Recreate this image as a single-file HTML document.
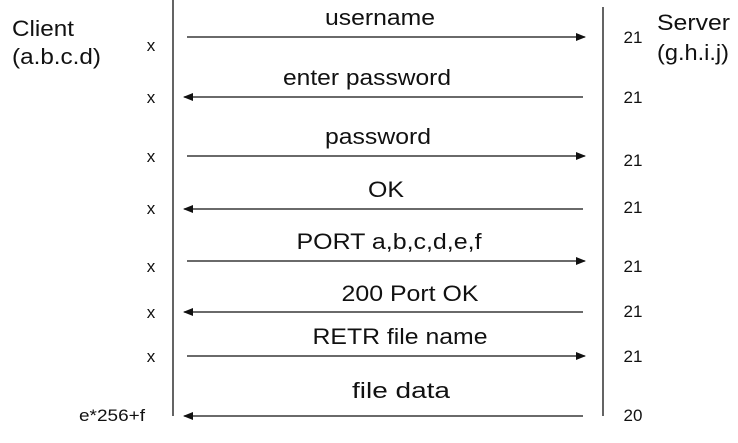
<!DOCTYPE html>
<html><head><meta charset="utf-8"><style>
html,body{margin:0;padding:0;background:#fff;}
body{width:738px;height:438px;overflow:hidden;}
text{font-family:"Liberation Sans",Arial,sans-serif;fill:#111;}
</style></head><body>
<svg width="738" height="438" xmlns="http://www.w3.org/2000/svg">
<defs><marker id="a" markerWidth="10" markerHeight="8" refX="9" refY="4" orient="auto" markerUnits="userSpaceOnUse"><path d="M0,0 L10,4 L0,8 Z" fill="#111"/></marker></defs>
<line x1="173" y1="0" x2="173" y2="416" stroke="#111" stroke-width="1.3"/>
<line x1="603" y1="7" x2="603" y2="416" stroke="#111" stroke-width="1.3"/>
<g stroke="#111" stroke-width="1.3">
<line x1="187" y1="37" x2="585" y2="37" marker-end="url(#a)"/>
<line x1="583" y1="97" x2="184" y2="97" marker-end="url(#a)"/>
<line x1="187" y1="156" x2="585" y2="156" marker-end="url(#a)"/>
<line x1="583" y1="209" x2="184" y2="209" marker-end="url(#a)"/>
<line x1="187" y1="261" x2="585" y2="261" marker-end="url(#a)"/>
<line x1="583" y1="312" x2="184" y2="312" marker-end="url(#a)"/>
<line x1="187" y1="356" x2="585" y2="356" marker-end="url(#a)"/>
<line x1="583" y1="416" x2="184" y2="416" marker-end="url(#a)"/>
</g>
<g font-size="22" text-anchor="middle" lengthAdjust="spacingAndGlyphs">
<text x="380" y="25" textLength="110" lengthAdjust="spacingAndGlyphs">username</text>
<text x="367" y="85" textLength="168" lengthAdjust="spacingAndGlyphs">enter password</text>
<text x="378" y="144" textLength="106" lengthAdjust="spacingAndGlyphs">password</text>
<text x="386" y="197" textLength="36" lengthAdjust="spacingAndGlyphs">OK</text>
<text x="389" y="249" textLength="185" lengthAdjust="spacingAndGlyphs">PORT a,b,c,d,e,f</text>
<text x="410" y="301" textLength="137" lengthAdjust="spacingAndGlyphs">200 Port OK</text>
<text x="400" y="344" textLength="175" lengthAdjust="spacingAndGlyphs">RETR file name</text>
<text x="401" y="398" textLength="98" lengthAdjust="spacingAndGlyphs">file data</text>
</g>
<g font-size="22">
<text x="12" y="36" textLength="62" lengthAdjust="spacingAndGlyphs">Client</text>
<text x="12" y="64" textLength="89" lengthAdjust="spacingAndGlyphs">(a.b.c.d)</text>
<text x="657" y="30" textLength="73" lengthAdjust="spacingAndGlyphs">Server</text>
<text x="657" y="60" textLength="72" lengthAdjust="spacingAndGlyphs">(g.h.i.j)</text>
</g>
<g font-size="17" text-anchor="middle">
<text x="151" y="51">x</text>
<text x="151" y="103">x</text>
<text x="151" y="162">x</text>
<text x="151" y="214">x</text>
<text x="151" y="272">x</text>
<text x="151" y="318">x</text>
<text x="151" y="362">x</text>
<text x="145" y="421" text-anchor="end" textLength="66" lengthAdjust="spacingAndGlyphs">e*256+f</text>
<text x="633" y="43">21</text>
<text x="633" y="103">21</text>
<text x="633" y="166">21</text>
<text x="633" y="213">21</text>
<text x="633" y="272">21</text>
<text x="633" y="317">21</text>
<text x="633" y="362">21</text>
<text x="633" y="421">20</text>
</g>
</svg>
</body></html>
